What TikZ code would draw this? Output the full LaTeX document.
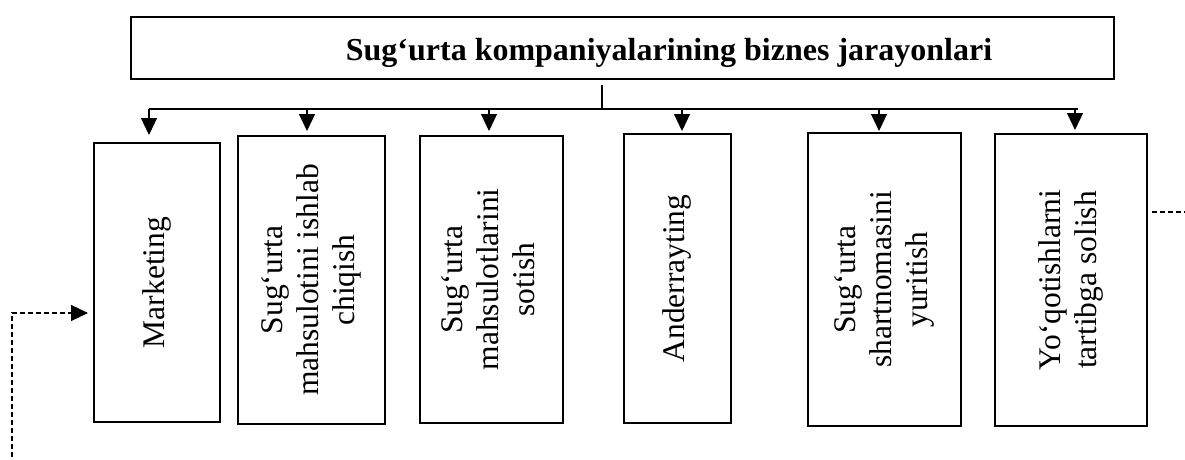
\documentclass[tikz,border=0pt]{standalone}
\usepackage{fontspec}
\setmainfont{Liberation Serif}
\usetikzlibrary{arrows.meta}
\newcommand\rottext[1]{\rotatebox{90}{\begin{tabular}{@{}c@{}}#1\end{tabular}}}
\begin{document}
\begin{tikzpicture}[x=1pt,y=-1pt,
  box/.style={draw, line width=2.2pt, inner sep=0pt, font=\fontsize{31.5}{36.2}\selectfont},
  titletext/.style={inner sep=0pt, font=\fontsize{32}{38}\selectfont\bfseries},
  conn/.style={line width=1.2pt},
  arr/.style={conn, -{Triangle[width=16pt,length=17pt]}},
  dashconn/.style={conn, dash pattern=on 5pt off 3pt},
  dasharr/.style={arr, dash pattern=on 5pt off 3pt}]
\useasboundingbox (0,0) rectangle (1185,460);
% title
\node[box, minimum width=982.8pt, minimum height=61.8pt] (title) at (622.5,48) {};
\node[titletext, anchor=base] (tt) at (669,60) {Sug‘urta kompaniyalarining biznes jarayonlari};
% boxes
\node[box, minimum width=125.8pt, minimum height=278.8pt] (b1) at (157,282.5) {\rottext{Marketing}};
\node[box, minimum width=146.8pt, minimum height=287.8pt] (b2) at (311.5,280) {\rottext{Sugʻurta\\ mahsulotini ishlab\\ chiqish}};
\node[box, minimum width=142.8pt, minimum height=286.8pt] (b3) at (491.5,279.5) {\rottext{Sugʻurta\\ mahsulotlarini\\ sotish}};
\node[box, minimum width=106.8pt, minimum height=288.8pt] (b4) at (677.5,278.5) {\rottext{Anderrayting}};
\node[box, minimum width=152.8pt, minimum height=292.8pt] (b5) at (884.5,279.5) {\rottext{Sugʻurta\\ shartnomasini\\ yuritish}};
\node[box, minimum width=151.8pt, minimum height=291.8pt] (b6) at (1071,280) {\rottext{Yoʻqotishlarni\\ tartibga solish}};
% bus
\coordinate (stub) at (602,85);
\coordinate (busL) at (149,109);
\coordinate (busR) at (1078,109);
\coordinate (a1) at (149,109);
\coordinate (a2) at (307,109);
\coordinate (a3) at (489,109);
\coordinate (a4) at (682,109);
\coordinate (a5) at (879,109);
\coordinate (a6) at (1075,109);
\draw[conn] (stub) -- ([yshift=-1pt]stub |- busL);
\draw[conn] (busL) -- (busR);
\draw[arr, shorten >=7pt] (a1) -- (a1 |- b1.north);
\draw[arr, shorten >=4pt] (a2) -- (a2 |- b2.north);
\draw[arr, shorten >=4pt] (a3) -- (a3 |- b3.north);
\draw[arr, shorten >=2pt] (a4) -- (a4 |- b4.north);
\draw[arr, shorten >=1pt] (a5) -- (a5 |- b5.north);
\draw[arr, shorten >=3pt] (a6) -- (a6 |- b6.north);
% dashed connectors
\coordinate (dlb) at (12,457);
\coordinate (dlc) at (12,313);
\draw[dasharr, shorten >=5pt] (dlb) -- (dlc) -- (dlc -| b1.west);
\coordinate (drc) at (1185,212);
\draw[dashconn, shorten <=4pt] (b6.east |- drc) -- (drc);
\end{tikzpicture}
\end{document}
